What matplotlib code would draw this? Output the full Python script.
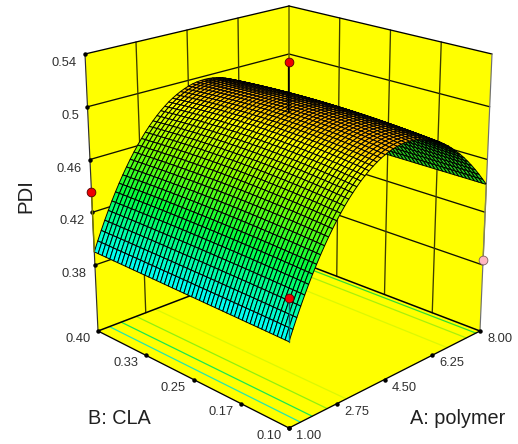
import numpy as np
import matplotlib
matplotlib.use("Agg")
import matplotlib.pyplot as plt
from matplotlib.collections import PolyCollection
from matplotlib.colors import LinearSegmentedColormap, Normalize

plt.rcParams['font.family'] = ['Liberation Sans', 'DejaVu Sans']

# ---------- values ----------
polymer_ticks = [1.00, 2.75, 4.50, 6.25, 8.00]
polymer_labels = ['1.00', '2.75', '4.50', '6.25', '8.00']
cla_ticks = [0.10, 0.175, 0.25, 0.325, 0.40]
cla_labels = ['0.10', '0.17', '0.25', '0.33', '0.40']
pdi_ticks = [0.38, 0.42, 0.46, 0.50, 0.54]
pdi_labels = ['0.38', '0.42', '0.46', '0.5', '0.54']
pdi_floor = 0.33
pdi_top = 0.54

# PDI over the polymer mesh stations (1.00 ... 8.00, 51 stations); CLA has almost no effect
pdi_along_polymer = [
    0.3900, 0.3973, 0.4043, 0.4111, 0.4176, 0.4239, 0.4299, 0.4356, 0.4411, 0.4463,
    0.4513, 0.4560, 0.4605, 0.4647, 0.4687, 0.4724, 0.4758, 0.4790, 0.4820, 0.4846,
    0.4871, 0.4892, 0.4911, 0.4928, 0.4942, 0.4954, 0.4963, 0.4969, 0.4973, 0.4974,
    0.4973, 0.4969, 0.4963, 0.4954, 0.4942, 0.4928, 0.4911, 0.4892, 0.4871, 0.4846,
    0.4820, 0.4790, 0.4758, 0.4724, 0.4687, 0.4647, 0.4605, 0.4560, 0.4513, 0.4463,
    0.4411]
mesh_polymer = np.linspace(1, 8, len(pdi_along_polymer))
mesh_cla = np.linspace(0.10, 0.40, 51)

# floor contours (polymer position and colour)
contour_polymer = [1.42, 1.85, 2.40, 3.10, 6.80, 7.50, 7.85]
contour_colors = ['#20e8b0', '#18e850', '#90f010', '#dcf804', '#dcf804', '#a8f00c', '#30e030']

# design points
point_polymer = [1.0, 1.0, 4.5, 8.0]
point_cla = [0.40, 0.10, 0.25, 0.10]
point_pdi = [0.4354, 0.4204, 0.5326, 0.3838]
point_surface = [0.390, 0.390, 0.4954, 0.4411]
point_colors = ['#ee0000', '#ee0000', '#ee0000', '#ffb6c1']
point_line = ['#777700', '#0c6a6a', '#000000', '#888855']

# ---------- view: box corners in figure pixels, indexed [polymer][cla][pdi] ----------
corners = np.zeros((2, 2, 2, 2))
corners[0, 0, 0] = (289, 428)
corners[1, 0, 0] = (480, 331)
corners[0, 1, 0] = (98, 331)
corners[1, 1, 0] = (289, 258)
corners[0, 0, 1] = (289, 126)
corners[1, 0, 1] = (492, 54)
corners[0, 1, 1] = (85, 54)
corners[1, 1, 1] = (289, 6)
bulge = 8.0


def project(a, b, z):
    a, b, z = np.asarray(a, float), np.asarray(b, float), np.asarray(z, float)
    u = (a - 1) / 7
    v = (b - 0.10) / 0.30
    w = (z - pdi_floor) / (pdi_top - pdi_floor)
    out = 0
    for i, fu in enumerate((1 - u, u)):
        for j, fv in enumerate((1 - v, v)):
            for k, fw in enumerate((1 - w, w)):
                out = out + fu * fv * fw * corners[i, j, k][(...,) + (None,) * u.ndim]
    x, y = out[0], out[1]
    y = y - bulge * w * 16 * u * (1 - u) * v * (1 - v)
    return x, y


fig = plt.figure(figsize=(5.18, 4.44), dpi=100, facecolor='white')
ax = fig.add_axes([0, 0, 1, 1])
ax.set_xlim(0, 518)
ax.set_ylim(444, 0)
ax.axis('off')

YEL = '#ffff00'
A0, A1, B0, B1 = 1.0, 8.0, 0.10, 0.40
Zl, Zt = pdi_floor, pdi_top


def poly(pts, **kw):
    x, y = project(*zip(*pts))
    ax.fill(x, y, **kw)


def seg(p, q, **kw):
    x, y = project(*zip(p, q))
    ax.plot(x, y, solid_capstyle='round', **kw)


# panes
poly([(A0, B1, Zl), (A1, B1, Zl), (A1, B1, Zt), (A0, B1, Zt)], fc=YEL, ec='none')
poly([(A1, B0, Zl), (A1, B1, Zl), (A1, B1, Zt), (A1, B0, Zt)], fc=YEL, ec='none')
poly([(A0, B0, Zl), (A1, B0, Zl), (A1, B1, Zl), (A0, B1, Zl)], fc=YEL, ec='none')

# grid on walls
for z in pdi_ticks[:-1]:
    seg((A0, B1, z), (A1, B1, z), color='#101000', lw=0.95)
    seg((A1, B1, z), (A1, B0, z), color='#101000', lw=0.95)
for a in polymer_ticks[1:-1]:
    seg((a, B1, Zl), (a, B1, Zt), color='#3c3c00', lw=0.95)
for b in cla_ticks[1:-1]:
    seg((A1, b, Zl), (A1, b, Zt), color='#3c3c00', lw=0.95)
seg((A1, B1, Zl), (A1, B1, Zt), color='#6a6a00', lw=1.1)

# floor contours
for a, c in zip(contour_polymer, contour_colors):
    seg((a, B0, Zl), (a, B1, Zl), color=c, lw=0.9)

# box edges
seg((A0, B1, Zl), (A1, B1, Zl), color='black', lw=1.1)
seg((A1, B0, Zl), (A1, B1, Zl), color='black', lw=1.1)
seg((A0, B0, Zl), (A1, B0, Zl), color='black', lw=0.95)
seg((A0, B0, Zl), (A0, B1, Zl), color='black', lw=0.95)
seg((A0, B1, Zt), (A1, B1, Zt), color='black', lw=0.95)
seg((A1, B0, Zt), (A1, B1, Zt), color='black', lw=0.95)
seg((A0, B1, Zl), (A0, B1, Zt), color='#303030', lw=0.85)
seg((A1, B0, Zl), (A1, B0, Zt), color='#707070', lw=0.85)

# surface, far cells first
cmap = LinearSegmentedColormap.from_list('dx', [
    (0.00, '#00ffff'), (0.38, '#00ff40'), (0.66, '#80ff00'),
    (0.90, '#ffff00'), (1.00, '#ffb000')])
norm = Normalize(min(pdi_along_polymer), max(pdi_along_polymer))
Z = np.tile(np.array(pdi_along_polymer)[:, None], (1, len(mesh_cla)))
AA, BB = np.meshgrid(mesh_polymer, mesh_cla, indexing='ij')
X, Y = project(AA.ravel(), BB.ravel(), Z.ravel())
X, Y = X.reshape(AA.shape), Y.reshape(AA.shape)
verts, faces = [], []
for i in range(len(mesh_polymer) - 2, -1, -1):
    for j in range(len(mesh_cla) - 2, -1, -1):
        q = np.array([[X[i, j], Y[i, j]], [X[i+1, j], Y[i+1, j]],
                      [X[i+1, j+1], Y[i+1, j+1]], [X[i, j+1], Y[i, j+1]]])
        area = 0.5 * np.sum(q[:, 0]*np.roll(q[:, 1], -1) - np.roll(q[:, 0], -1)*q[:, 1])
        verts.append(q)
        if area > 0:   # underside seen from the viewer
            faces.append('#28d020')
        else:
            faces.append(cmap(norm(Z[i:i+2, j:j+2].mean())))
ax.add_collection(PolyCollection(verts, facecolors=faces, edgecolors='black', linewidths=0.7, zorder=3))

# tick dots
tx, ty = project([A0]*5, [B1]*5, pdi_ticks)
ax.plot(tx, ty, 'o', color='black', ms=2.2, zorder=5)
tx, ty = project([A0]*5, cla_ticks, [Zl]*5)
ax.plot(tx, ty, 'o', color='black', ms=2.2, zorder=5)
tx, ty = project(polymer_ticks, [B0]*5, [Zl]*5)
ax.plot(tx, ty, 'o', color='black', ms=2.2, zorder=5)

# design points
for a, b, z, s, c, lc in zip(point_polymer, point_cla, point_pdi, point_surface, point_colors, point_line):
    seg((a, b, z), (a, b, s), color=lc, lw=1.3 if lc == '#000000' else 1.0, zorder=6)
    x, y = project([a], [b], [z])
    ax.plot(x, y, 'o', ms=6.3, mfc=c, mec='#500000' if c == '#ee0000' else '#806060', mew=0.6, zorder=7)

# tick labels
TC = '#303030'
FS = 9.3
for z, s in zip(pdi_ticks, pdi_labels):
    x, y = project(A0, B1, z)
    ax.text(x - 8, y + 9, s, ha='right', va='center', fontsize=FS, color=TC)
for b, s in zip(cla_ticks, cla_labels):
    x, y = project(A0, b, Zl)
    ax.text(x - 20, y + 8, s, ha='center', va='center', fontsize=FS, color=TC)
for a, s in zip(polymer_ticks, polymer_labels):
    x, y = project(a, B0, Zl)
    ax.text(x + 20, y + 8, s, ha='center', va='center', fontsize=FS, color=TC)

# axis titles
ax.text(26, 196, 'PDI', rotation=90, ha='center', va='center', fontsize=14.7, color='#202020')
ax.text(119.5, 418.5, 'B: CLA', ha='center', va='center', fontsize=14.3, color='#202020')
ax.text(457.5, 418.5, 'A: polymer', ha='center', va='center', fontsize=14.3, color='#202020')

fig.savefig('out.png', dpi=100, facecolor='white')
